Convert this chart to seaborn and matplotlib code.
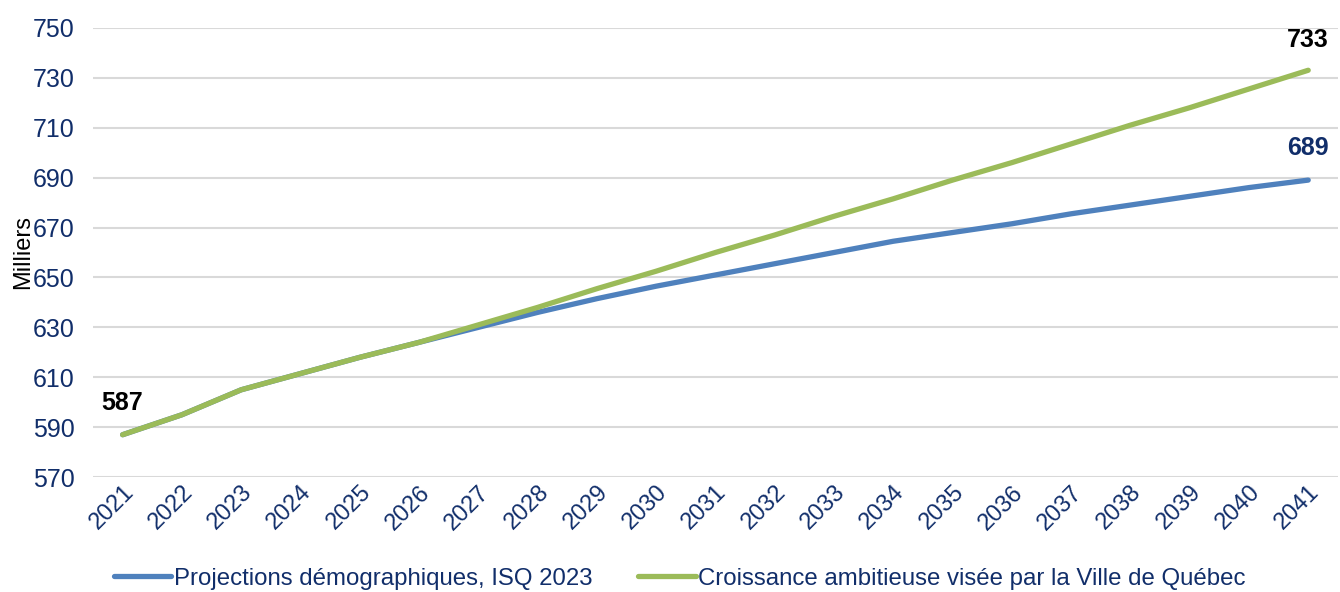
import matplotlib
matplotlib.use("Agg")
import matplotlib.pyplot as plt
import seaborn as sns
import pandas as pd

# Population of the city, in thousands
years = list(range(2021, 2042))
isq_projection = [587, 595, 605, 611.5, 618, 624, 630, 636, 641.5, 646.5, 651,
                  655.5, 660, 664.5, 668, 671.5, 675.5, 679, 682.5, 686, 689]
ambitious_growth = [587, 595, 605, 611.5, 618, 624, 631, 638, 645.5, 652.5, 660,
                    667, 674.5, 681.5, 689, 696, 703.5, 711, 718, 725.5, 733]
series_names = ["Projections démographiques, ISQ 2023",
                "Croissance ambitieuse visée par la Ville de Québec"]
y_ticks = [570, 590, 610, 630, 650, 670, 690, 710, 730, 750]

NAVY = "#112E6A"
BLUE = "#4F81BD"
GREEN = "#9BBB59"

df = pd.DataFrame({
    "Année": years * 2,
    "Population": isq_projection + ambitious_growth,
    "Série": [series_names[0]] * len(years) + [series_names[1]] * len(years),
})

sns.set_theme(style="white")
plt.rcParams["font.family"] = ["Liberation Sans", "DejaVu Sans"]

fig = plt.figure(figsize=(13.4, 5.92), dpi=100)
ax = fig.add_axes([0.0694, 0.194, 0.929, 0.759])

sns.lineplot(data=df, x="Année", y="Population", hue="Série",
             palette=[BLUE, GREEN], linewidth=3.8, ax=ax, legend=False,
             solid_capstyle="round", sort=False)

ax.set_xlim(2020.5, 2041.5)
ax.set_ylim(570, 750)
ax.set_yticks(y_ticks)
ax.set_xticks(years)
ax.set_xticklabels([str(y) for y in years], rotation=45, ha="right",
                   rotation_mode="anchor", fontsize=17, color=NAVY)
ax.set_yticklabels([str(v) for v in y_ticks], fontsize=18, color=NAVY)
ax.tick_params(axis="both", length=0)
ax.tick_params(axis="y", pad=13)
ax.tick_params(axis="x", pad=3)
ax.yaxis.grid(True, color="#D9D9D9", linewidth=1.5)
ax.xaxis.grid(False)
for s in ax.spines.values():
    s.set_visible(False)

ax.set_xlabel("")
ax.set_ylabel("Milliers", fontsize=17, color="black", labelpad=-1)

# Value labels at the start and end of the series
label_style = dict(ha="center", va="center", fontsize=18, fontweight="bold",
                   textcoords="offset points")
ax.annotate(f"{isq_projection[0]:.0f}", (years[0], isq_projection[0]),
            xytext=(0, 23), color="black", **label_style)
ax.annotate(f"{isq_projection[-1]:.0f}", (years[-1], isq_projection[-1]),
            xytext=(0, 23), color=NAVY, **label_style)
ax.annotate(f"{ambitious_growth[-1]:.0f}", (years[-1], ambitious_growth[-1]),
            xytext=(0, 22), color="black", **label_style)

handles = [plt.Line2D([], [], color=BLUE, linewidth=3.8, solid_capstyle="round"),
           plt.Line2D([], [], color=GREEN, linewidth=3.8, solid_capstyle="round")]
fig.legend(handles, series_names, loc="lower left",
           bbox_to_anchor=(0.083, 0.0), ncol=2, frameon=False,
           fontsize=17.3, handlelength=2.4, handletextpad=0.1,
           columnspacing=1.9, labelcolor=NAVY, borderaxespad=0.1, borderpad=0)

fig.savefig("out.png", dpi=100)
